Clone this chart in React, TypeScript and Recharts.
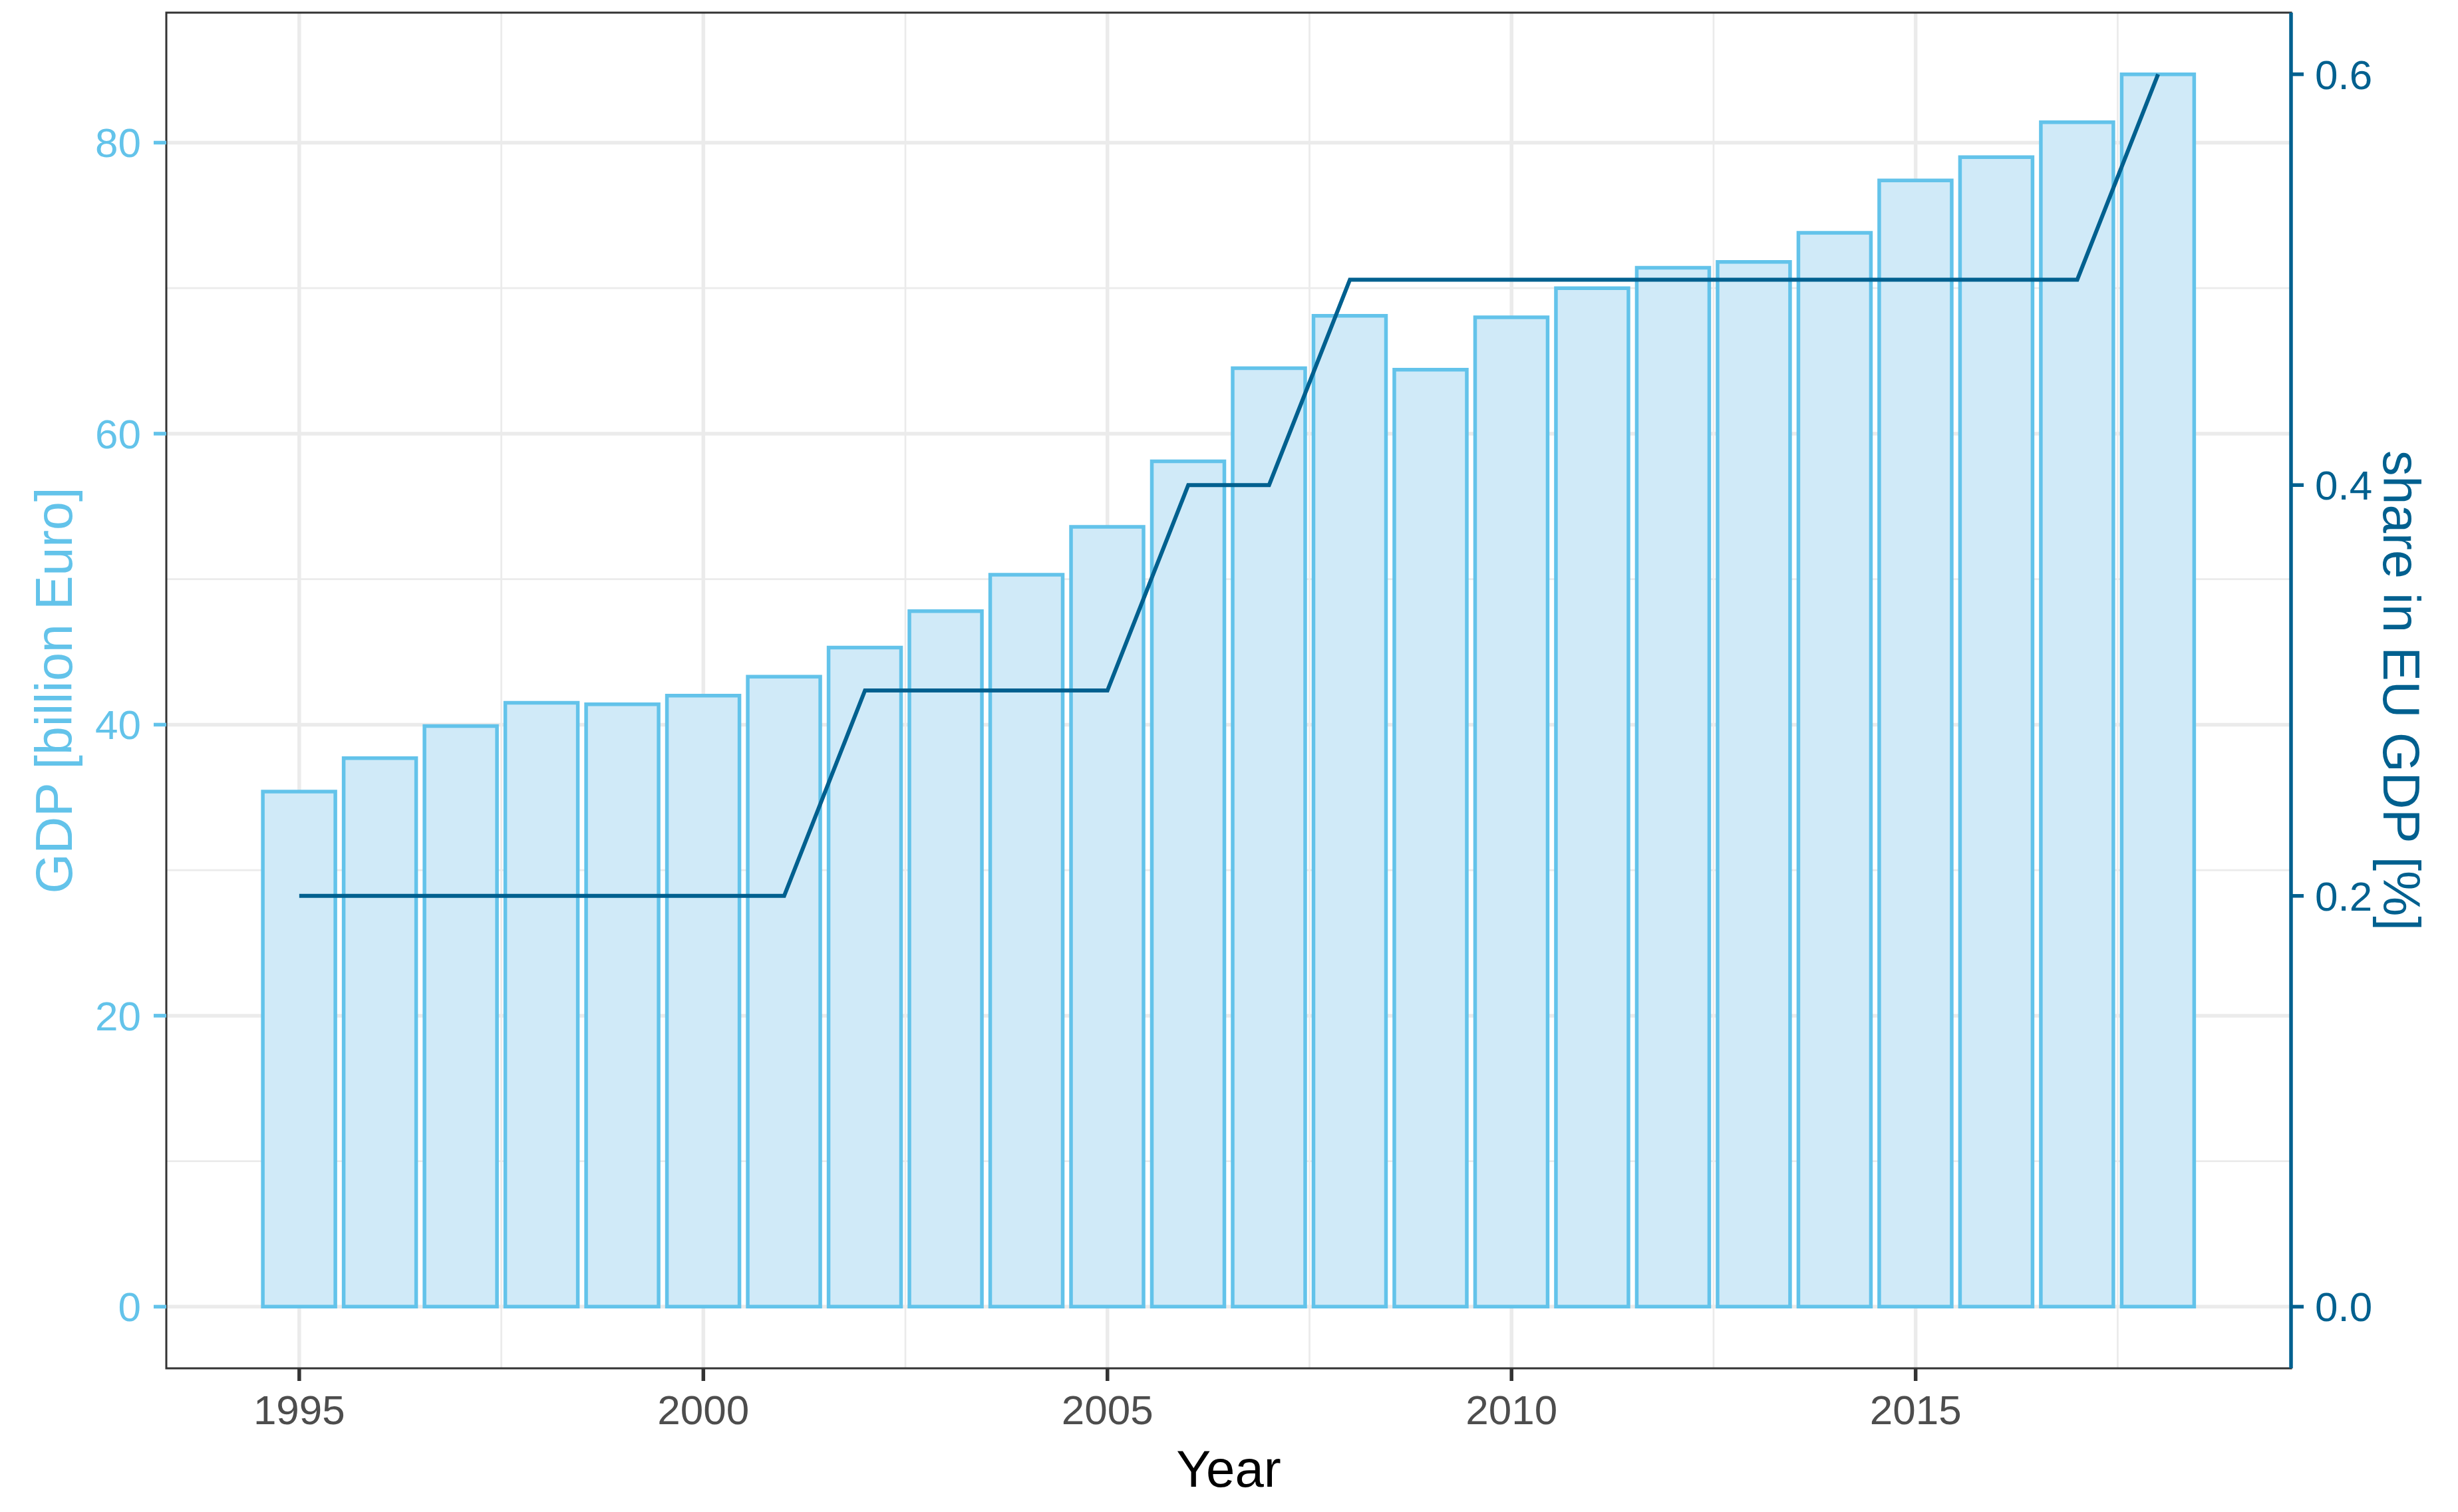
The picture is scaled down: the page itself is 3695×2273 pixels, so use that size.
import React from 'react';
import {
  ComposedChart,
  Bar,
  Line,
  XAxis,
  YAxis,
  CartesianGrid,
  ReferenceArea,
} from 'recharts';

const years = [
  1995, 1996, 1997, 1998, 1999, 2000, 2001, 2002, 2003, 2004, 2005, 2006,
  2007, 2008, 2009, 2010, 2011, 2012, 2013, 2014, 2015, 2016, 2017, 2018,
];
const gdp = [
  35.4, 37.7, 39.9, 41.5, 41.4, 42.0, 43.3, 45.3, 47.8, 50.3, 53.6, 58.1,
  64.5, 68.1, 64.4, 68.0, 70.0, 71.4, 71.8, 73.8, 77.4, 79.0, 81.4, 84.7,
];
const share = [
  0.2, 0.2, 0.2, 0.2, 0.2, 0.2, 0.2, 0.3, 0.3, 0.3, 0.3, 0.4,
  0.4, 0.5, 0.5, 0.5, 0.5, 0.5, 0.5, 0.5, 0.5, 0.5, 0.5, 0.6,
];

const yearTicks = [1995, 2000, 2005, 2010, 2015];
const yearMinor = [1997.5, 2002.5, 2007.5, 2012.5, 2017.5];
const gdpTicks = [0, 20, 40, 60, 80];
const gdpMinor = [10, 30, 50, 70];
const shareTicks = [0, 0.2, 0.4, 0.6];

const data = years.map((year, i) => ({ year, gdp: gdp[i], share: share[i] }));

// ggplot-style 5% expansion
const barWidth = 0.9;
const xLo = years[0] - barWidth / 2;
const xHi = years[years.length - 1] + barWidth / 2;
const xPad = (xHi - xLo) * 0.05;
const xDomain = [xLo - xPad, xHi + xPad];

const gdpMax = Math.max(...gdp);
const gdpDomain = [-gdpMax * 0.05, gdpMax * 1.05];
const k = Math.max(...share) / gdpMax;
const shareDomain = [gdpDomain[0] * k, gdpDomain[1] * k];

const W = 3695;
const H = 2273;
const left = 250;
const right = 251;
const plotW = W - left - right;
const barPx = Math.round((plotW / (xDomain[1] - xDomain[0])) * barWidth);

const light = '#63C3EA';
const dark = '#00608F';
const font = '"Liberation Sans", Arial, sans-serif';

const LeftTitle = ({ viewBox }: any) => {
  const x = viewBox.x + 108;
  const y = viewBox.y + viewBox.height / 2;
  return (
    <text x={x} y={y} transform={`rotate(-90, ${x}, ${y})`} textAnchor="middle"
      fill={light} fontSize={77} fontFamily={font}>
      GDP [billion Euro]
    </text>
  );
};

const RightTitle = ({ viewBox }: any) => {
  const x = viewBox.x + 139;
  const y = viewBox.y + viewBox.height / 2;
  return (
    <text x={x} y={y} transform={`rotate(90, ${x}, ${y})`} textAnchor="middle"
      fill={dark} fontSize={77} fontFamily={font}>
      share in EU GDP [%]
    </text>
  );
};

const BottomTitle = ({ viewBox }: any) => (
  <text x={viewBox.x + viewBox.width / 2} y={viewBox.y + 178} textAnchor="middle"
    fill="#000000" fontSize={78} fontFamily={font}>
    Year
  </text>
);

export default function App() {
  return (
    <div style={{ position: 'absolute', left: 0, top: 0, width: W, height: H, background: '#fff' }}>
      <ComposedChart width={W} height={H} data={data}
        margin={{ top: 19, right: 0, bottom: 0, left: 0 }}>
        <CartesianGrid yAxisId="gdp" stroke="#EBEBEB" strokeWidth={2.75}
          horizontalValues={gdpMinor} verticalValues={yearMinor} />
        <CartesianGrid yAxisId="gdp" stroke="#EBEBEB" strokeWidth={5.5}
          horizontalValues={gdpTicks} verticalValues={yearTicks} />
        <XAxis dataKey="year" type="number" domain={xDomain} ticks={yearTicks}
          allowDataOverflow interval={0} height={216}
          axisLine={false} tickSize={19} tickMargin={21}
          tickLine={{ stroke: '#333333', strokeWidth: 5.5 }}
          tick={{ fill: '#4D4D4D', fontSize: 62, fontFamily: font }}
          label={<BottomTitle />} />
        <YAxis yAxisId="gdp" type="number" domain={gdpDomain} ticks={gdpTicks}
          allowDataOverflow interval={0} width={left}
          axisLine={false} tickSize={19} tickMargin={19}
          tickLine={{ stroke: light, strokeWidth: 5.5 }}
          tick={{ fill: light, fontSize: 62, fontFamily: font }}
          label={<LeftTitle />} />
        <YAxis yAxisId="share" orientation="right" type="number" domain={shareDomain}
          ticks={shareTicks} allowDataOverflow interval={0} width={right}
          tickFormatter={(v: number) => v.toFixed(1)}
          axisLine={{ stroke: dark, strokeWidth: 5.5 }} tickSize={19} tickMargin={17}
          tickLine={{ stroke: dark, strokeWidth: 5.5 }}
          tick={{ fill: dark, fontSize: 62, fontFamily: font }}
          label={<RightTitle />} />
        <Bar yAxisId="gdp" dataKey="gdp" barSize={barPx} fill="#D0EAF8"
          stroke={light} strokeWidth={5.5} isAnimationActive={false} />
        <Line yAxisId="share" dataKey="share" type="linear" stroke={dark}
          strokeWidth={6} dot={false} isAnimationActive={false} />
        <ReferenceArea yAxisId="gdp" x1={xDomain[0]} x2={xDomain[1]}
          y1={gdpDomain[0]} y2={gdpDomain[1]} fill="none" fillOpacity={0}
          stroke="#333333" strokeWidth={3} ifOverflow="visible" />
      </ComposedChart>
    </div>
  );
}
